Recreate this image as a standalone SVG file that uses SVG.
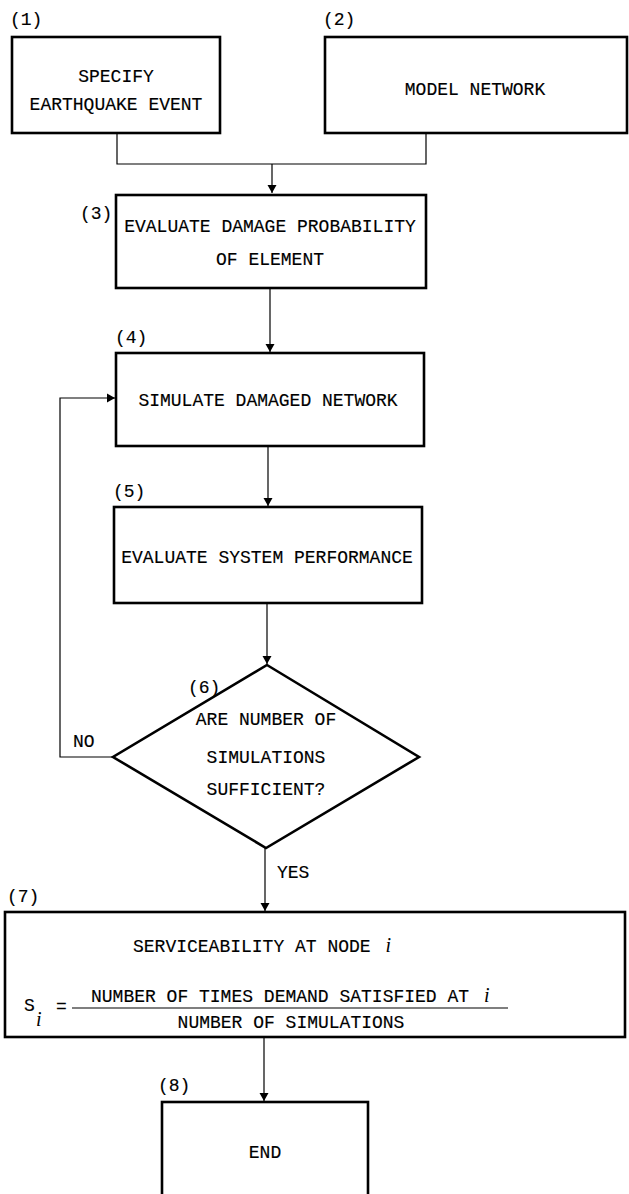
<svg xmlns="http://www.w3.org/2000/svg" width="629" height="1194" viewBox="0 0 629 1194">
<style>
.box{fill:#fff;stroke:#000;stroke-width:2.6}
.ln{fill:none;stroke:#000;stroke-width:1.2}
.t{font-family:"Liberation Mono","Courier New",monospace;font-size:18px;fill:#000;stroke:#000;stroke-width:0.15}
.m{text-anchor:middle}
.it{font-family:"Liberation Serif","Times New Roman",serif;font-style:italic;font-size:20px;fill:#000;stroke:none}
</style>
<defs>
<marker id="ah" markerWidth="8" markerHeight="12" refX="8" refY="6" orient="auto" markerUnits="userSpaceOnUse">
<path d="M0,1.5 L8,6 L0,10.5 Z" fill="#000"/>
</marker>
</defs>
<rect width="629" height="1194" fill="#fff"/>
<g id="connectors">
<path class="ln" d="M117,133 V164 H426 V133"/>
<path class="ln" d="M272,164 V193" marker-end="url(#ah)"/>
<path class="ln" d="M270,288 V352" marker-end="url(#ah)"/>
<path class="ln" d="M268,446 V506" marker-end="url(#ah)"/>
<path class="ln" d="M267,603 V664" marker-end="url(#ah)"/>
<path class="ln" d="M113,757 H60 V398 H115" marker-end="url(#ah)"/>
<path class="ln" d="M265,848 V911" marker-end="url(#ah)"/>
<path class="ln" d="M264,1037 V1101" marker-end="url(#ah)"/>
<text class="t" x="73" y="747">NO</text>
<text class="t" x="277" y="878">YES</text>
</g>
<g id="n1">
<text class="t" x="10" y="25">(1)</text>
<rect class="box" x="12" y="37" width="208" height="96"/>
<text class="t m" x="116" y="82">SPECIFY</text>
<text class="t m" x="116" y="110">EARTHQUAKE EVENT</text>
</g>
<g id="n2">
<text class="t" x="323" y="25">(2)</text>
<rect class="box" x="325" y="37" width="302" height="96"/>
<text class="t m" x="475" y="95">MODEL NETWORK</text>
</g>
<g id="n3">
<text class="t" x="80" y="219">(3)</text>
<rect class="box" x="116" y="195" width="310" height="93"/>
<text class="t m" x="270" y="232">EVALUATE DAMAGE PROBABILITY</text>
<text class="t m" x="270" y="265">OF ELEMENT</text>
</g>
<g id="n4">
<text class="t" x="115" y="343">(4)</text>
<rect class="box" x="116" y="353" width="308" height="93"/>
<text class="t m" x="268" y="406">SIMULATE DAMAGED NETWORK</text>
</g>
<g id="n5">
<text class="t" x="113" y="497">(5)</text>
<rect class="box" x="114" y="507" width="308" height="96"/>
<text class="t m" x="267" y="563">EVALUATE SYSTEM PERFORMANCE</text>
</g>
<g id="n6">
<text class="t" x="188" y="693">(6)</text>
<polygon class="box" points="267,665 419,757 266,848 113,757"/>
<text class="t m" x="266" y="725">ARE NUMBER OF</text>
<text class="t m" x="266" y="763">SIMULATIONS</text>
<text class="t m" x="266" y="795">SUFFICIENT?</text>
</g>
<g id="n7">
<text class="t" x="7" y="902">(7)</text>
<rect class="box" x="5" y="912" width="620" height="125"/>
<text class="t" x="133" y="952">SERVICEABILITY AT NODE <tspan class="it" dx="4">i</tspan></text>
<text class="t" x="24" y="1011">S</text>
<text class="it" x="36" y="1026">i</text>
<text class="t" x="56" y="1012">=</text>
<text class="t" x="91" y="1002">NUMBER OF TIMES DEMAND SATISFIED AT <tspan class="it" dx="4">i</tspan></text>
<line class="ln" x1="72" y1="1008" x2="508" y2="1008"/>
<text class="t m" x="291" y="1028">NUMBER OF SIMULATIONS</text>
</g>
<g id="n8">
<text class="t" x="158" y="1091">(8)</text>
<rect class="box" x="162" y="1102" width="206" height="96"/>
<text class="t m" x="265" y="1158">END</text>
</g>
</svg>
